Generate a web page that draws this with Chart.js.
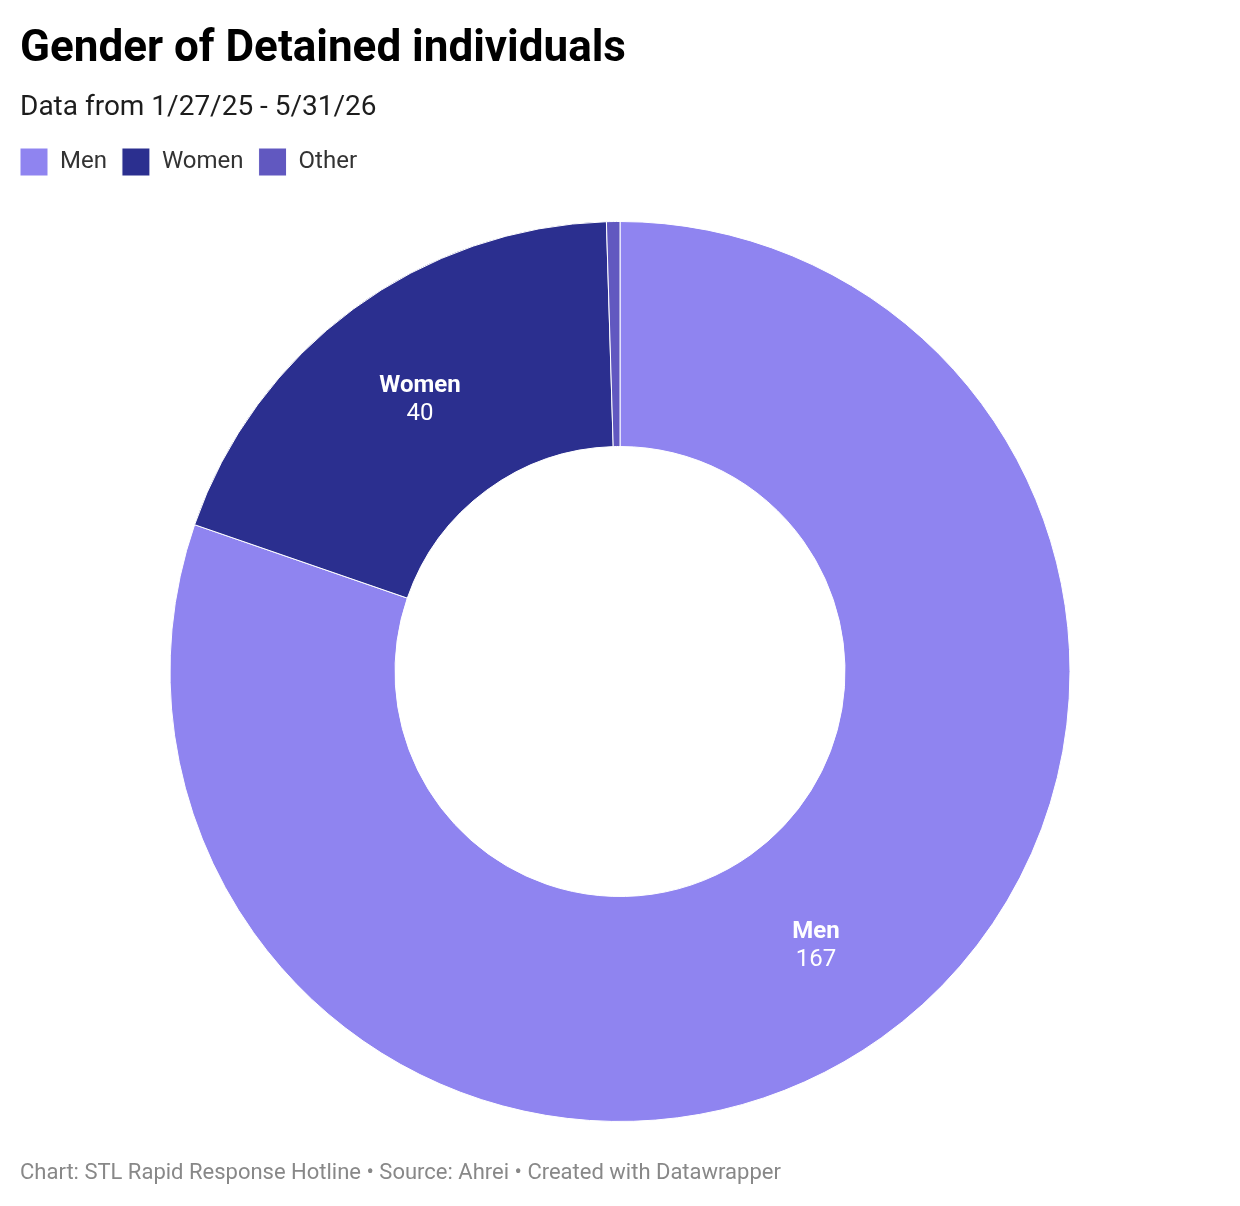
<!DOCTYPE html>
<html>
<head>
<meta charset="utf-8">
<script src="https://cdn.jsdelivr.net/npm/chart.js@4.4.1/dist/chart.umd.min.js"></script>
<style>
  html, body { margin: 0; padding: 0; background: #fff; }
  #wrap { position: relative; width: 1240px; height: 1206px; font-family: Roboto, sans-serif; }
  canvas { position: absolute; left: 0; top: 0; }
  .txt { position: absolute; left: 20px; white-space: nowrap; }
  #title { top: 24px; font-size: 44px; line-height: 44px; font-weight: bold; color: #000; }
  #subtitle { top: 92px; font-size: 28px; line-height: 28px; color: #1d1d1d; }
  #footer { top: 1161px; font-size: 22px; line-height: 22px; color: #888; }
</style>
</head>
<body>
<div id="wrap">
  <canvas id="genderChart" width="1240" height="1206"></canvas>
  <div class="txt" id="title">Gender of Detained individuals</div>
  <div class="txt" id="subtitle">Data from 1/27/25 - 5/31/26</div>
  <div class="txt" id="footer">Chart: STL Rapid Response Hotline • Source: Ahrei • Created with Datawrapper</div>
</div>
<script>
// Gender of detained individuals
const genders = ['Men', 'Women', 'Other'];
const counts = [167, 40, 1];
const sliceColors = ['#8f84f0', '#2b2f8f', '#6158c0'];

// labels inside the slices (name in bold, value below)
const sliceLabels = {
    id: 'sliceLabels',
    afterDatasetsDraw(chart) {
        const ctx = chart.ctx;
        const meta = chart.getDatasetMeta(0);
        const total = counts.reduce((a, b) => a + b, 0);
        ctx.save();
        ctx.fillStyle = '#fff';
        ctx.textAlign = 'center';
        ctx.textBaseline = 'middle';
        meta.data.forEach((arc, i) => {
            if (counts[i] / total < 0.05) return; // too small to label
            const p = arc.getCenterPoint();
            ctx.font = 'bold 24px Roboto';
            ctx.fillText(genders[i], p.x, p.y - 14);
            ctx.font = '24px Roboto';
            ctx.fillText(String(counts[i]), p.x, p.y + 14);
        });
        ctx.restore();
    }
};

const ctx = document.getElementById('genderChart').getContext('2d');
new Chart(ctx, {
    type: 'doughnut',
    data: {
        labels: genders,
        datasets: [{
            data: counts,
            backgroundColor: sliceColors,
            borderColor: '#fff',
            borderWidth: 1
        }]
    },
    options: {
        responsive: false,
        animation: false,
        radius: 450,
        cutout: '50%',
        layout: { padding: { top: 133, left: 5, right: 5, bottom: 49 } },
        plugins: {
            legend: {
                display: true,
                position: 'top',
                align: 'start',
                labels: {
                    boxWidth: 28,
                    boxHeight: 28,
                    padding: 15,
                    color: '#333',
                    font: { family: 'Roboto', size: 24 }
                }
            },
            tooltip: { enabled: false }
        }
    },
    plugins: [sliceLabels]
});
</script>
</body>
</html>
